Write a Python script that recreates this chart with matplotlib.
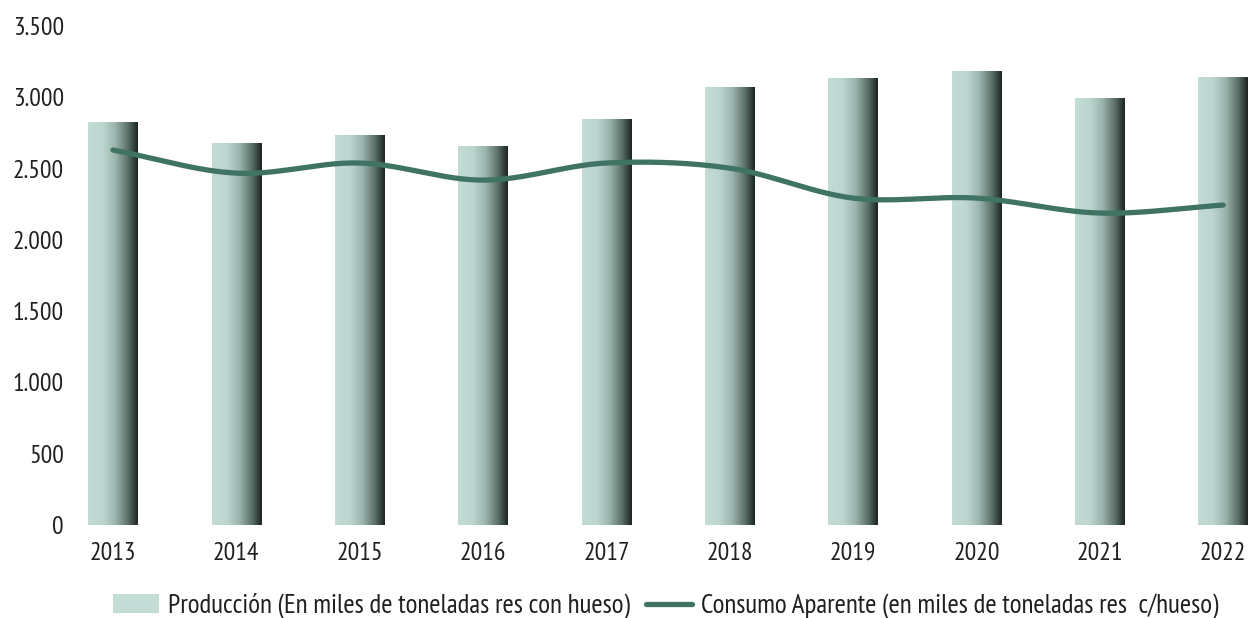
import matplotlib
matplotlib.use('Agg')
import matplotlib.pyplot as plt
import numpy as np
from matplotlib.colors import LinearSegmentedColormap
from matplotlib.patches import Patch
from matplotlib.lines import Line2D
from matplotlib.ticker import FuncFormatter

plt.rcParams['font.family'] = ['PT Sans Narrow', 'DejaVu Sans']

years = ['2013', '2014', '2015', '2016', '2017', '2018', '2019', '2020', '2021', '2022']
produccion = [2826, 2679, 2735, 2658, 2847, 3072, 3135, 3184, 2994, 3142]
consumo = [2630, 2468, 2539, 2419, 2539, 2503, 2293, 2293, 2188, 2244]

label_prod = 'Producción (En miles de toneladas res con hueso)'
label_cons = 'Consumo Aparente (en miles de toneladas res  c/hueso)'

text_color = '#231f20'
line_color = '#3f7464'
bar_cmap = LinearSegmentedColormap.from_list('bar', [
    (0.0, '#c3ddd6'), (0.3, '#bcd6cf'), (0.55, '#9bb4ad'),
    (0.8, '#5c706a'), (1.0, '#1b2421')])


def catmull_rom(x, y, steps=30):
    # smooth curve through every point, like a spreadsheet's smoothed line
    x = np.asarray(x, float)
    y = np.asarray(y, float)
    px = np.concatenate([[2 * x[0] - x[1]], x, [2 * x[-1] - x[-2]]])
    py = np.concatenate([[2 * y[0] - y[1]], y, [2 * y[-1] - y[-2]]])
    xs, ys = [], []
    t = np.linspace(0, 1, steps)
    for i in range(1, len(px) - 2):
        for p, out in ((px, xs), (py, ys)):
            p0, p1, p2, p3 = p[i - 1], p[i], p[i + 1], p[i + 2]
            out.extend(0.5 * (2 * p1 + (-p0 + p2) * t
                              + (2 * p0 - 5 * p1 + 4 * p2 - p3) * t ** 2
                              + (-p0 + 3 * p1 - 3 * p2 + p3) * t ** 3))
    return np.array(xs), np.array(ys)


fig = plt.figure(figsize=(12.54, 6.18), dpi=100)
ax = fig.add_axes([75 / 1254, 1 - 525 / 618, 1 - 75 / 1254, (525 - 26) / 618])

x = np.arange(len(years))
width = 0.4
grad = np.linspace(0, 1, 256).reshape(1, -1)
bars = ax.bar(x, produccion, width=width, color='none', edgecolor='none')
for b in bars:
    x0, w, h = b.get_x(), b.get_width(), b.get_height()
    ax.imshow(grad, cmap=bar_cmap, aspect='auto', extent=(x0, x0 + w, 0, h),
              interpolation='bicubic', zorder=2)

sx, sy = catmull_rom(x, consumo)
ax.plot(sx, sy, color=line_color, lw=3.8, solid_capstyle='round', zorder=3)

ax.set_xlim(-0.308, 9.25)
ax.set_ylim(0, 3500)
ax.set_yticks(np.arange(0, 3501, 500))
ax.yaxis.set_major_formatter(FuncFormatter(lambda v, _: f'{int(v):,}'.replace(',', '.')))
ax.set_xticks(x)
ax.set_xticklabels(years)
for s in ax.spines.values():
    s.set_visible(False)
ax.tick_params(axis='both', length=0, labelsize=18.5, colors=text_color)
ax.tick_params(axis='x', pad=12)
ax.tick_params(axis='y', pad=8)

handles = [Patch(facecolor='#c3ddd6', edgecolor='none'),
           Line2D([0], [0], color=line_color, lw=3.8, solid_capstyle='round')]
fig.legend(handles, [label_prod, label_cons], loc='center', ncol=2,
           bbox_to_anchor=(0.531, 1 - 606 / 618), frameon=False,
           borderpad=0, borderaxespad=0,
           fontsize=19.5, handlelength=1.7, handleheight=0.67,
           handletextpad=0.33, columnspacing=0.6, labelcolor=text_color)

fig.savefig('out.png', dpi=100)
